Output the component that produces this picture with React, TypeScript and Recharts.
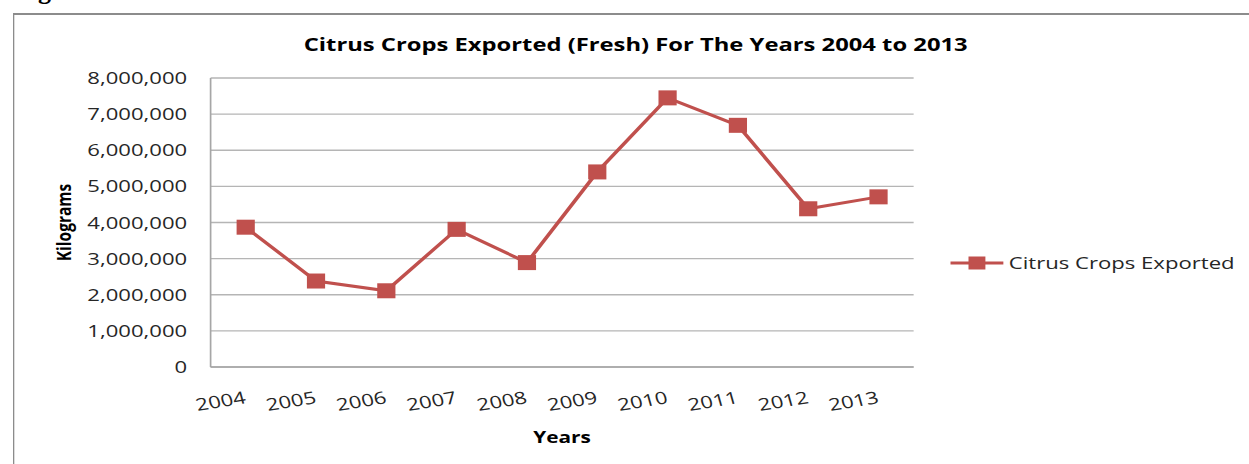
import { LineChart, Line, XAxis, YAxis, CartesianGrid, Legend } from 'recharts'

const years = ['2004', '2005', '2006', '2007', '2008', '2009', '2010', '2011', '2012', '2013']
const exported = [3870000, 2380000, 2110000, 3810000, 2890000, 5400000, 7450000, 6690000, 4380000, 4710000]
const yTicks = [0, 1000000, 2000000, 3000000, 4000000, 5000000, 6000000, 7000000, 8000000]
const seriesName = 'Citrus Crops Exported'

const chartData = years.map((year, i) => ({ year, exported: exported[i] }))

// the source picture is stretched sideways, so draw narrow and scale up
const STRETCH = 1.3
const W = 1249 / STRETCH
const RED = '#c0504d'
const FONT = '"Open Sans", sans-serif'

const fmt = (v: number) => v.toLocaleString('en-US')

const YearTick = (props: any) => {
  const { x, y, payload } = props
  const tx = x + 1
  const ty = y + 34
  return (
    <text x={tx} y={ty} textAnchor="end" transform={`rotate(-12, ${tx}, ${ty})`}
      fontFamily={FONT} fontSize={17} fill="#262626">
      {payload.value}
    </text>
  )
}

const SquareDot = (props: any) => {
  const { cx, cy } = props
  if (cx == null || cy == null) return null
  return <rect x={cx - 7} y={cy - 7.5} width={14} height={15} fill={RED} />
}

const renderLegend = () => (
  <div style={{ display: 'flex', alignItems: 'center', fontFamily: FONT, fontSize: 17, color: '#262626' }}>
    <svg width={41} height={16}>
      <line x1={0} y1={8} x2={41} y2={8} stroke={RED} strokeWidth={3} />
      <rect x={14} y={1.5} width={13} height={13} fill={RED} />
    </svg>
    <span style={{ marginLeft: 4, whiteSpace: 'nowrap' }}>{seriesName}</span>
  </div>
)

const YLabel = (props: any) => {
  const { viewBox } = props
  const cy = viewBox.y + viewBox.height / 2
  return (
    <text x={54.5} y={cy} textAnchor="middle" transform={`rotate(-90, 54.5, ${cy})`}
      fontFamily={FONT} fontWeight={700} fontSize={15.5} fill="#000">
      Kilograms
    </text>
  )
}

const XLabel = (props: any) => {
  const { viewBox } = props
  return (
    <text x={viewBox.x + viewBox.width / 2} y={443} textAnchor="middle"
      fontFamily={FONT} fontWeight={700} fontSize={16} fill="#000">
      Years
    </text>
  )
}

export default function App() {
  return (
    <div style={{ position: 'absolute', left: 0, top: 0, width: 1249, height: 464, overflow: 'hidden', background: '#fff' }}>
      <div style={{ position: 'absolute', left: 15, top: -24, lineHeight: '30px', fontFamily: '"Liberation Serif", serif', fontWeight: 700, fontSize: 26, color: '#000' }}>
        Figure
      </div>
      <div style={{ position: 'absolute', left: 0, top: 0, width: W, height: 464, transform: `scaleX(${STRETCH})`, transformOrigin: 'left top' }}>
        <div style={{ position: 'absolute', left: 10.3, top: 13, width: 1100, height: 600, borderTop: '2px solid #8c8c8c', borderLeft: '1.6px solid #8c8c8c' }} />
        <div style={{ position: 'absolute', left: 489 - 300, top: 31, width: 600, textAlign: 'center', fontFamily: FONT, fontWeight: 700, fontSize: 18.3, color: '#000', whiteSpace: 'nowrap' }}>
          Citrus Crops Exported (Fresh) For The Years 2004 to 2013
        </div>
        <LineChart width={W} height={464} data={chartData} margin={{ top: 78, right: W - 702.8, bottom: 57, left: 0 }}>
          <CartesianGrid vertical={false} stroke="#b5b5b5" strokeWidth={1.3} />
          <XAxis dataKey="year" height={40} tickSize={0} tickLine={false} axisLine={{ stroke: '#a6a6a6', strokeWidth: 1.3 }}
            padding={{ left: 27, right: 27 }} tick={<YearTick />} interval={0} label={<XLabel />} />
          <YAxis width={162} domain={[0, 8000000]} ticks={yTicks} tickFormatter={fmt} tickSize={0} tickMargin={18}
            tickLine={false} axisLine={{ stroke: '#a6a6a6', strokeWidth: 1.3 }}
            tick={{ fontFamily: FONT, fontSize: 17, fill: '#262626' }} label={<YLabel />} />
          <Legend layout="vertical" align="center" verticalAlign="middle" content={renderLegend}
            wrapperStyle={{ left: 731, top: 251, width: 'auto' }} />
          <Line dataKey="exported" name={seriesName} stroke={RED} strokeWidth={3} type="linear"
            dot={<SquareDot />} activeDot={false} isAnimationActive={false} />
        </LineChart>
      </div>
    </div>
  )
}
